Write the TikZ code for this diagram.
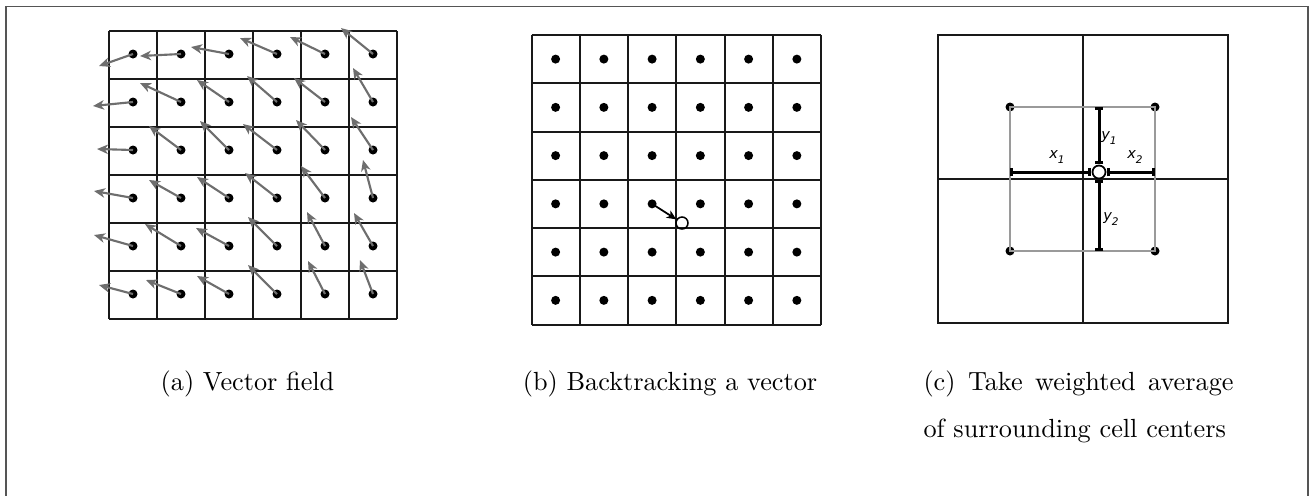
\documentclass[tikz,border=0pt]{standalone}
\usepackage{fontspec}
\newfontfamily\labfont{DejaVu Sans}
\usetikzlibrary{arrows.meta}
\definecolor{vecgray}{HTML}{6E6E6E}
\definecolor{framegray}{HTML}{555555}
\definecolor{boxgray}{HTML}{9A9A9A}
\newcommand{\lbl}[2]{{\labfont\itshape\fontsize{5.8}{6.5}\selectfont #1\raisebox{-0.28em}{\fontsize{4.2}{4.5}\selectfont #2}}}
\begin{document}
\begin{tikzpicture}[x=0.4pt,y=-0.4pt,
  gridline/.style={line width=0.8pt,draw=black!90},
  dotnode/.style={circle,fill=black,inner sep=0pt,minimum size=3.6pt},
  vec/.style={line width=0.85pt,draw=vecgray,-{Stealth[length=4.4pt,width=3.8pt,inset=1.3pt]}},
  backvec/.style={line width=0.7pt,draw=black,-{Stealth[length=3.8pt,width=3.3pt,inset=1pt]}},
  ringnode/.style={circle,draw=black,line width=0.6pt,inner sep=0pt,minimum size=4.8pt},
  samplenode/.style={circle,draw=black,fill=white,line width=0.7pt,inner sep=0pt,minimum size=5.2pt},
  dist/.style={line width=1.2pt,draw=black,{Bar[width=3.4pt]}-{Bar[width=3.4pt]}},
  cellbox/.style={line width=0.6pt,draw=boxgray},
  caption/.style={inner sep=0pt,font=\fontsize{10.5}{12}\selectfont},
  lab/.style={inner sep=0pt}]
\useasboundingbox (0,0) rectangle (1311,495);
% outer frame
\draw[framegray,line width=0.6pt] (6,520) -- (6,6.5) -- (1308,6.5) -- (1308,520);

% ---------- (a) vector field ----------
\foreach \k in {0,...,6}{
  \draw[gridline] ({109+48*\k},31) -- ({109+48*\k},319);
  \draw[gridline] (109,{31+48*\k}) -- (397,{31+48*\k});
}
\foreach \row [count=\j from 0] in {
  {-34/12,-41/2,-38/-7,-37/-16,-35/-17,-32/-26},
  {-40/4,-41/-19,-32/-22,-30/-26,-31/-24,-20/-34},
  {-36/-1,-32/-24,-29/-29,-34/-26,-29/-30,-22/-33},
  {-39/-7,-32/-18,-32/-21,-32/-25,-24/-32,-10/-38},
  {-39/-11,-36/-22,-33/-18,-29/-29,-18/-34,-19/-33},
  {-34/-9,-35/-14,-32/-18,-29/-29,-17/-33,-13/-34}}{
  \foreach \dx/\dy [count=\i from 0] in \row {
    \node[dotnode] (a-\i-\j) at ({133+48*\i},{54+48*\j}) {};
    \path (a-\i-\j.center) ++(\dx,\dy) coordinate (at-\i-\j);
    \draw[vec] (a-\i-\j.center) -- (at-\i-\j);
  }
}

% ---------- (b) backtracking ----------
\foreach \k in {0,...,6}{
  \draw[gridline] ({531.5+48.25*\k},35) -- ({531.5+48.25*\k},325);
  \draw[gridline] (531.5,{35+48.25*\k}) -- (821,{35+48.25*\k});
}
\foreach \i in {0,...,5}{
  \foreach \j in {0,...,5}{
    \node[dotnode] (b-\i-\j) at ({555.6+48.25*\i},{59.1+48.25*\j}) {};
  }
}
\node[ringnode] (ring) at (682,223) {};
\draw[backvec] (b-2-3.center) -- (ring);

% ---------- (c) weighted average ----------
\draw[gridline] (938,35) rectangle (1228,323);
\draw[gridline] (1083,35) -- (1083,323);
\draw[gridline] (938,179) -- (1228,179);
\node[dotnode] (c-tl) at (1010,107) {};
\node[dotnode] (c-tr) at (1155,107) {};
\node[dotnode] (c-bl) at (1010,251) {};
\node[dotnode] (c-br) at (1155,251) {};
\draw[cellbox] (c-tl.center) -- (c-tr.center) -- (c-br.center) -- (c-bl.center) -- cycle;
\coordinate (xl) at (1010,172);
\coordinate (xli) at (1091,172);
\coordinate (xri) at (1107,172);
\coordinate (xr) at (1155,172);
\coordinate (yt) at (1099,107);
\coordinate (yti) at (1099,164);
\coordinate (ybi) at (1099,180);
\coordinate (yb) at (1099,251);
\draw[dist] (xl) -- (xli);
\draw[dist] (xri) -- (xr);
\draw[dist] (yt) -- (yti);
\draw[dist] (ybi) -- (yb);
\node[samplenode] (sample) at (1099,172) {};
\node[lab] (lx1) at (1057,157) {\lbl{x}{1}};
\node[lab] (lx2) at (1135,157) {\lbl{x}{2}};
\node[lab] (ly1) at (1109,138) {\lbl{y}{1}};
\node[lab] (ly2) at (1111,219) {\lbl{y}{2}};

% ---------- captions ----------
\node[caption,anchor=base] (capa) at (247.5,390) {(a) Vector field};
\node[caption,anchor=base] (capb) at (670,390) {(b) Backtracking a vector};
\node[caption,anchor=base west] (capc1) at (923,390) {\makebox[124pt][s]{(c) Take weighted average}};
\node[caption,anchor=base west] (capc2) at (923,437) {of surrounding cell centers};
\end{tikzpicture}
\end{document}
